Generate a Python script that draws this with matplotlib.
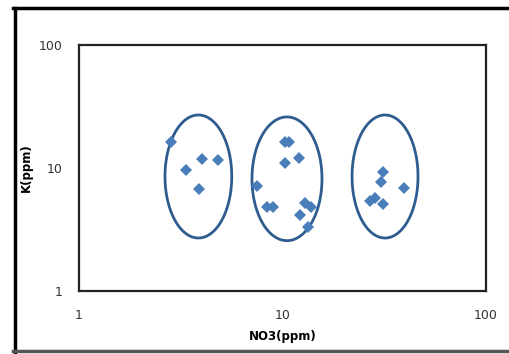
import numpy as np
import matplotlib
matplotlib.use("Agg")
import matplotlib.pyplot as plt
from matplotlib.lines import Line2D

# Data (NO3 ppm, K ppm)
no3 = [2.82, 3.36, 4.04, 4.84, 3.89,
       10.3, 10.8, 10.3, 12.1, 7.47, 8.36, 9.01, 12.9, 13.8, 12.2, 13.4,
       31.1, 30.4, 39.7, 26.9, 28.5, 31.3]
k = [16.4, 9.63, 11.8, 11.6, 6.71,
     16.2, 16.2, 10.9, 12.1, 7.14, 4.79, 4.85, 5.16, 4.79, 4.15, 3.33,
     9.33, 7.74, 6.84, 5.42, 5.67, 5.10]

# Group ellipses: centre (NO3, K) and half-extent in decades (x, y)
ell_cx = [3.86, 10.52, 31.9]
ell_cy = [8.53, 8.17, 8.53]
ell_ax = [0.164, 0.172, 0.162]
ell_by = [0.50, 0.503, 0.50]

xticks = [1, 10, 100]
yticks = [1, 10, 100]

fig = plt.figure(figsize=(5.09, 3.54), dpi=100)
ax = fig.add_axes([79/509, 1-291/354, (486-79)/509, (291-45)/354])
ax.set_xscale("log")
ax.set_yscale("log")
ax.set_xlim(1, 100)
ax.set_ylim(1, 100)

ax.plot(no3, k, linestyle="none", marker="D", markersize=6.5,
        color="#4A7EBB", markeredgewidth=0, zorder=3)

t = np.linspace(0, 2*np.pi, 361)[:-1]
for cx, cy, a, b in zip(ell_cx, ell_cy, ell_ax, ell_by):
    xs = 10**(np.log10(cx) + a*np.cos(t))
    ys = 10**(np.log10(cy) + b*np.sin(t))
    ax.fill(xs, ys, facecolor="none", edgecolor="#2E5C8F", linewidth=2.0, zorder=2)

ax.set_xticks(xticks)
ax.set_xticklabels([str(v) for v in xticks])
ax.set_yticks(yticks)
ax.set_yticklabels([str(v) for v in yticks])
ax.minorticks_off()
ax.tick_params(axis="both", length=0, labelsize=9, colors="#333333")
ax.tick_params(axis="x", pad=13)
ax.tick_params(axis="y", pad=12)
for s in ax.spines.values():
    s.set_linewidth(1.6)
    s.set_color("#222222")

ax.set_xlabel("NO3(ppm)", fontsize=8.5, fontweight="bold", labelpad=6)
ax.set_ylabel("K(ppm)", fontsize=8.5, fontweight="bold", labelpad=4)

# figure frame
fig.add_artist(Line2D([14.5/509, 14.5/509], [0, 1-7.5/354], color="black", linewidth=2.5, transform=fig.transFigure))
fig.add_artist(Line2D([13/509, 1], [1-7.5/354, 1-7.5/354], color="black", linewidth=2.5, transform=fig.transFigure))
fig.add_artist(Line2D([13/509, 1], [3/354, 3/354], color="#555555", linewidth=2.5, transform=fig.transFigure))

fig.savefig("out.png", dpi=100)
